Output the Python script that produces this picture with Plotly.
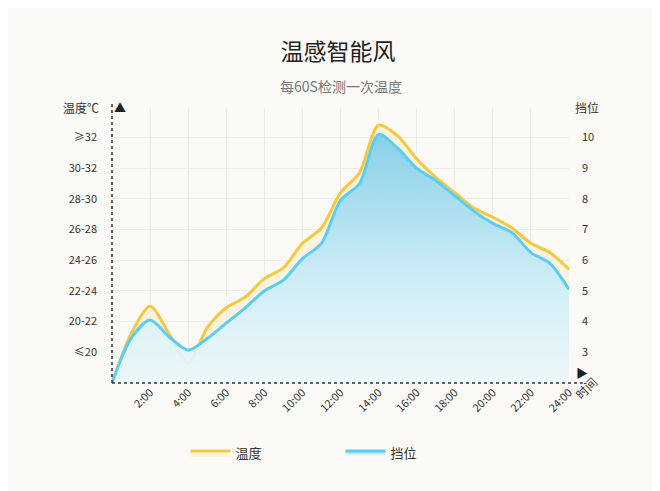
import plotly.graph_objects as go

hours = list(range(25))
# temperature level (0 = baseline, 1 = "≤20" ... 8 = "≥32")
temp_level = [0, 1.6, 2.5, 1.6, 0.65, 1.8, 2.45, 2.8, 3.4, 3.75, 4.55, 5.05, 6.2, 6.85,
              8.4, 8.05, 7.3, 6.7, 6.2, 5.7, 5.4, 5.05, 4.55, 4.25, 3.7]
# fan gear (right axis)
gear = [2.0, 3.45, 4.05, 3.5, 3.07, 3.45, 3.95, 4.45, 5.0, 5.35, 6.05, 6.55, 7.95, 8.5,
        10.1, 9.65, 9.0, 8.6, 8.1, 7.6, 7.2, 6.9, 6.25, 5.9, 5.05]

temp_labels = ['≤20', '20-22', '22-24', '24-26', '26-28', '28-30', '30-32', '≥32']
gear_ticks = [3, 4, 5, 6, 7, 8, 9, 10]
x_ticks = [2, 4, 6, 8, 10, 12, 14, 16, 18, 20, 22, 24]

top = 8.96
font = 'Noto Sans CJK SC'

fig = go.Figure()
fig.add_scatter(x=hours, y=temp_level, name='温度', mode='lines',
                line=dict(color='#f5c842', width=3, shape='spline', smoothing=0.8),
                fill='tozeroy', fillcolor='rgba(250,236,200,0.55)')
fig.add_scatter(x=hours, y=gear, name='挡位', mode='lines', yaxis='y2',
                line=dict(color='#5ccdf2', width=3, shape='spline', smoothing=0.8),
                fill='tozeroy',
                fillgradient=dict(type='vertical',
                                  colorscale=[[0, 'rgba(255,255,255,0.9)'],
                                              [0.5, 'rgba(205,238,249,0.9)'],
                                              [1, 'rgba(130,206,235,0.95)']]))

fig.update_layout(
    width=660, height=491,
    margin=dict(l=104, r=99, t=100, b=116),
    paper_bgcolor='#fbfaf6', plot_bgcolor='rgba(0,0,0,0)',
    font=dict(family=font, color='#333'),
    title=dict(text='温感智能风', x=0.5, xanchor='center', y=0.91, yanchor='middle',
               font=dict(size=23, color='#222')),
    xaxis=dict(range=[0, 24], tickvals=x_ticks, ticktext=[f'{h}:00' for h in x_ticks],
               tickangle=-45, showgrid=True, gridcolor='#ececec', zeroline=False,
               tickfont=dict(size=11), ticks=''),
    yaxis=dict(range=[0, top], tickvals=list(range(1, 9)), ticktext=temp_labels,
               showgrid=True, gridcolor='#ececec', zeroline=False, tickfont=dict(size=11),
               ticklabelstandoff=14),
    yaxis2=dict(range=[2, top + 2], overlaying='y', side='right', tickvals=gear_ticks,
                showgrid=False, zeroline=False, tickfont=dict(size=11), ticklabelstandoff=12),
    legend=dict(orientation='h', x=0.5, xanchor='center', y=-0.2, yanchor='top',
                font=dict(size=13), itemwidth=40, entrywidth=100),
    showlegend=True,
)

# dotted axes
fig.add_shape(type='line', xref='paper', yref='paper', x0=0, x1=0, y0=0, y1=1.02,
              line=dict(color='#333', width=1.5, dash='dot'))
fig.add_shape(type='line', xref='paper', yref='paper', x0=0, x1=1.03, y0=0, y1=0,
              line=dict(color='#333', width=1.5, dash='dot'))
fig.add_annotation(xref='paper', yref='paper', x=0, y=1.04, text='▲', showarrow=False,
                   font=dict(size=12, color='#222'))
fig.add_annotation(xref='paper', yref='paper', x=1.045, y=0, text='▶', showarrow=False,
                   font=dict(size=12, color='#222'))
fig.add_annotation(xref='paper', yref='paper', x=-0.025, y=1.04, text='温度℃', showarrow=False,
                   xanchor='right', font=dict(size=12))
fig.add_annotation(xref='paper', yref='paper', x=1.07, y=1.04, text='挡位', showarrow=False,
                   font=dict(size=12))
fig.add_annotation(xref='paper', yref='paper', x=1.075, y=-0.08, text='时间', showarrow=False,
                   textangle=-45, font=dict(size=12))
fig.add_annotation(xref='paper', yref='paper', x=0.5, y=1.08, yanchor='middle',
                   text='每60S检测一次温度', showarrow=False, font=dict(size=14, color='#777'))

fig.write_html('out.html')
